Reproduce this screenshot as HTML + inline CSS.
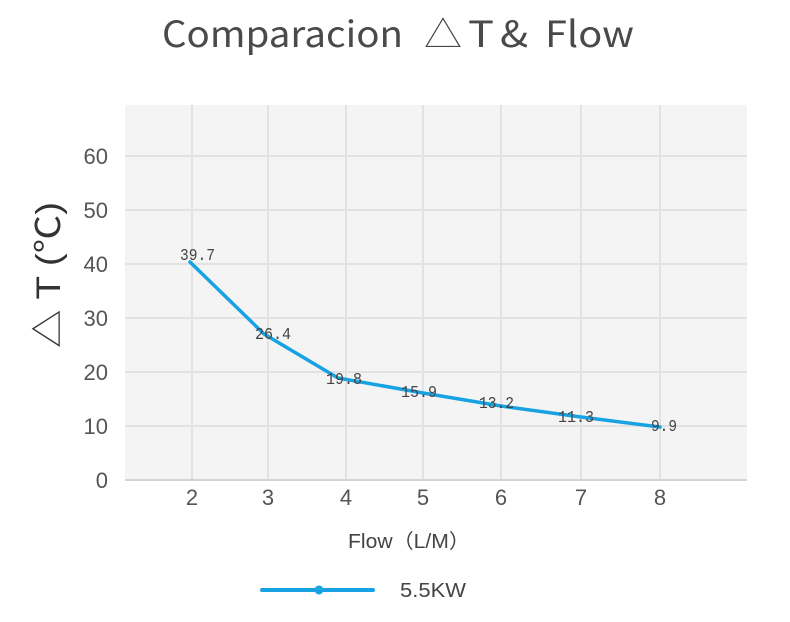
<!DOCTYPE html>
<html><head><meta charset="utf-8"><style>
html,body{margin:0;padding:0;background:#fff;}
svg{display:block;}
</style></head><body>
<svg width="790" height="622" viewBox="0 0 790 622" xmlns="http://www.w3.org/2000/svg">
<rect width="790" height="622" fill="#fff"/>
<!-- title -->
<g fill="#4a4a4a" font-family="'Noto Sans CJK JP','Liberation Sans',sans-serif" font-size="36">
<text x="162" y="47" textLength="241" lengthAdjust="spacingAndGlyphs">Comparacion</text>
<text x="424" y="47" font-weight="300" textLength="38" lengthAdjust="spacingAndGlyphs">△</text>
<text x="468" y="47" textLength="26" lengthAdjust="spacingAndGlyphs">T</text>
<text x="500" y="47" textLength="28" lengthAdjust="spacingAndGlyphs">&amp;</text>
<text x="545" y="47" textLength="89" lengthAdjust="spacingAndGlyphs">Flow</text>
</g>
<!-- plot bg -->
<rect x="125" y="105" width="622" height="375" fill="#f4f4f4"/>
<g stroke="#e2e2e2" stroke-width="2">
<line x1="125" y1="156" x2="747" y2="156"/>
<line x1="125" y1="210" x2="747" y2="210"/>
<line x1="125" y1="264" x2="747" y2="264"/>
<line x1="125" y1="318" x2="747" y2="318"/>
<line x1="125" y1="372" x2="747" y2="372"/>
<line x1="125" y1="426" x2="747" y2="426"/>
<line x1="192" y1="105" x2="192" y2="480"/>
<line x1="268" y1="105" x2="268" y2="480"/>
<line x1="346" y1="105" x2="346" y2="480"/>
<line x1="423" y1="105" x2="423" y2="480"/>
<line x1="501" y1="105" x2="501" y2="480"/>
<line x1="581" y1="105" x2="581" y2="480"/>
<line x1="660" y1="105" x2="660" y2="480"/>
</g>
<line x1="125" y1="480" x2="747" y2="480" stroke="#d4d4d4" stroke-width="2"/>
<!-- y ticks -->
<g fill="#555" font-family="'Liberation Sans',sans-serif" font-size="22" text-anchor="end">
<text x="108" y="164">60</text>
<text x="108" y="218">50</text>
<text x="108" y="272">40</text>
<text x="108" y="326">30</text>
<text x="108" y="380">20</text>
<text x="108" y="434">10</text>
<text x="108" y="488">0</text>
</g>
<!-- x ticks -->
<g fill="#555" font-family="'Liberation Sans',sans-serif" font-size="22" text-anchor="middle">
<text x="192" y="505">2</text>
<text x="268" y="505">3</text>
<text x="346" y="505">4</text>
<text x="423" y="505">5</text>
<text x="501" y="505">6</text>
<text x="581" y="505">7</text>
<text x="660" y="505">8</text>
</g>
<!-- y axis title -->
<text transform="translate(60,275) rotate(-90)" text-anchor="middle" fill="#333" font-family="'Liberation Sans','Noto Sans CJK JP',sans-serif" font-size="34" textLength="146" lengthAdjust="spacingAndGlyphs">△ T (℃)</text>
<!-- x axis title -->
<text x="348" y="548" fill="#444" font-family="'Liberation Sans','Noto Sans CJK JP',sans-serif" font-size="20" textLength="122" lengthAdjust="spacingAndGlyphs">Flow（L/M）</text>
<!-- series -->
<polyline points="190,262 264,334 338,378 423,393 501,406 581,417 660,427" fill="none" stroke="#17a3e3" stroke-width="3.5" stroke-linejoin="round" stroke-linecap="round"/>
<!-- data labels -->
<g fill="#444" font-family="'Liberation Mono',monospace" font-size="17">
<text x="180" y="260" textLength="35" lengthAdjust="spacingAndGlyphs">39.7</text>
<text x="255" y="339" textLength="36" lengthAdjust="spacingAndGlyphs">26.4</text>
<text x="326" y="384" textLength="36" lengthAdjust="spacingAndGlyphs">19.8</text>
<text x="401" y="397" textLength="36" lengthAdjust="spacingAndGlyphs">15.9</text>
<text x="479" y="408" textLength="35" lengthAdjust="spacingAndGlyphs">13.2</text>
<text x="558" y="422" textLength="36" lengthAdjust="spacingAndGlyphs">11.3</text>
<text x="651" y="431" textLength="26" lengthAdjust="spacingAndGlyphs">9.9</text>
</g>
<!-- legend -->
<line x1="262" y1="590" x2="373" y2="590" stroke="#17a3e3" stroke-width="4" stroke-linecap="round"/>
<circle cx="319" cy="590" r="4.5" fill="#17a3e3"/>
<text x="400" y="597" fill="#444" font-family="'Liberation Sans',sans-serif" font-size="20" textLength="66" lengthAdjust="spacingAndGlyphs">5.5KW</text>
</svg>
</body></html>
